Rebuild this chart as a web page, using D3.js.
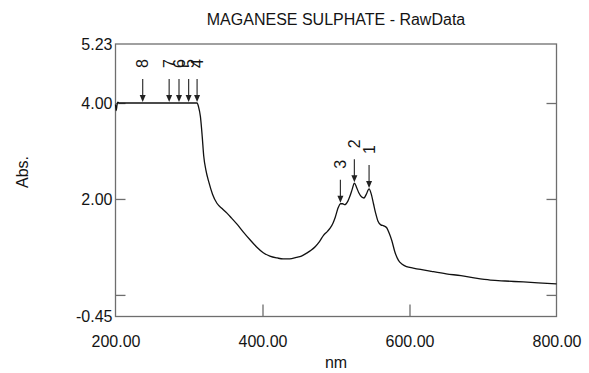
<!DOCTYPE html>
<html>
<head>
<meta charset="utf-8">
<script src="https://cdn.jsdelivr.net/npm/d3@7"></script>
<style>
  body { margin: 0; background: #fff; }
  text { font-family: "Liberation Sans", Arial, sans-serif; fill: #141414; }
</style>
</head>
<body>
<script>
// Data

var wavelength = [200, 201, 202, 203, 205, 210, 237, 273, 286, 300, 311, 313, 315.5, 318, 320, 323, 327,
  332, 338, 345, 352, 358, 365, 374, 383, 392, 401, 410, 420, 428, 437, 446, 453, 460, 466, 472, 477,
  483, 488, 492, 496, 499, 503, 506, 509, 512, 516, 519, 522, 525, 528, 531, 535, 538, 541, 545, 548,
  551, 554, 557, 561, 565, 569, 572, 576, 580, 585, 590, 596, 605, 615, 630, 650, 670, 690, 710, 730,
  755, 775, 800];
var absorbance = [3.97, 3.84, 3.95, 4.02, 4.0, 4.0, 4.0, 4.0, 4.0, 4.0, 4.0, 3.92, 3.72, 3.3, 2.9, 2.6, 2.35,
  2.1, 1.91, 1.80, 1.70, 1.60, 1.48, 1.31, 1.15, 1.00, 0.88, 0.81, 0.77, 0.75, 0.75, 0.78, 0.81, 0.87, 0.93, 1.01, 1.10,
  1.24, 1.32, 1.39, 1.50, 1.62, 1.82, 1.90, 1.90, 1.88, 1.95, 2.06, 2.20, 2.33, 2.24, 2.13, 2.04, 2.02, 2.09, 2.21, 2.10,
  1.90, 1.70, 1.54, 1.46, 1.44, 1.40, 1.30, 1.13, 0.90, 0.72, 0.64, 0.59, 0.56, 0.53, 0.49, 0.44, 0.40, 0.35, 0.31, 0.29,
  0.27, 0.25, 0.23];

var peakLabels = ["1", "2", "3", "4", "5", "6", "7", "8"];
var peakNm = [545, 525, 506, 311, 299.5, 286.4, 273, 237];
var peakAbs = [2.21, 2.33, 1.90, 4.0, 4.0, 4.0, 4.0, 4.0];

var yLabelTicks = [5.23, 4.00, 2.00, -0.45];
var yInnerTicks = [4, 2, 0];
var xLabelTicks = [200, 400, 600, 800];
var xInnerTicks = [400, 600];

/*
-----SVG-----
*/
var w = 589;
var h = 373;
var plotLeft = 115.5, plotRight = 556.5, plotTop = 44, plotBottom = 316.5;
var fontSize = 16;

var svg = d3.select("body")
  .append("svg")
  .attr("width", w)
  .attr("height", h);

var x = d3.scaleLinear().domain([200, 800]).range([plotLeft, plotRight]);
var y = d3.scaleLinear().domain([-0.45, 5.23]).range([plotBottom, plotTop]);

var axisColor = "#6e6e6e";
// plain hyphen for negatives, like the instrument printout
var fmt = function(d) { return d3.format(".2f")(d).replace("\u2212", "-"); };

// frame
svg.append("rect")
  .attr("x", plotLeft)
  .attr("y", plotTop)
  .attr("width", plotRight - plotLeft)
  .attr("height", plotBottom - plotTop)
  .attr("fill", "none")
  .attr("stroke", axisColor)
  .attr("stroke-width", 1.3);

// inner tick marks
function styleTicks(g) {
  g.select(".domain").remove();
  g.selectAll("line").attr("stroke", axisColor).attr("stroke-width", 1.3);
}

svg.append("g")
  .attr("transform", "translate(" + plotLeft + ",0)")
  .call(d3.axisRight(y).tickValues(yInnerTicks).tickSize(10).tickFormat(""))
  .call(styleTicks);

svg.append("g")
  .attr("transform", "translate(" + plotRight + ",0)")
  .call(d3.axisLeft(y).tickValues(yInnerTicks).tickSize(10).tickFormat(""))
  .call(styleTicks);

svg.append("g")
  .attr("transform", "translate(0," + plotBottom + ")")
  .call(d3.axisTop(x).tickValues(xInnerTicks).tickSize(12).tickFormat(""))
  .call(styleTicks);

// tick labels
function styleLabels(g) {
  g.select(".domain").remove();
  g.selectAll("text")
    .attr("font-size", fontSize)
    .attr("font-family", "Liberation Sans, Arial, sans-serif")
    .attr("fill", "#141414");
}

svg.append("g")
  .attr("transform", "translate(" + plotLeft + ",0)")
  .call(d3.axisLeft(y).tickValues(yLabelTicks).tickSize(0).tickPadding(3).tickFormat(fmt))
  .call(styleLabels);

svg.append("g")
  .attr("transform", "translate(0," + plotBottom + ")")
  .call(d3.axisBottom(x).tickValues(xLabelTicks).tickSize(0).tickPadding(19).tickFormat(fmt))
  .call(styleLabels);

// titles
svg.append("text")
  .attr("x", 336)
  .attr("y", 25)
  .attr("text-anchor", "middle")
  .attr("font-size", fontSize)
  .text("MAGANESE SULPHATE - RawData");

svg.append("text")
  .attr("x", 336)
  .attr("y", 368)
  .attr("text-anchor", "middle")
  .attr("font-size", fontSize)
  .text("nm");

svg.append("text")
  .attr("transform", "translate(28,172) rotate(-90)")
  .attr("text-anchor", "middle")
  .attr("font-size", fontSize)
  .text("Abs.");

/*
----Spectrum----
*/
var line = d3.line()
  .x(function(d, i) { return x(wavelength[i]); })
  .y(function(d) { return y(d); })
  .curve(d3.curveMonotoneX);

svg.append("path")
  .datum(absorbance)
  .attr("d", line)
  .attr("fill", "none")
  .attr("stroke", "#111")
  .attr("stroke-width", 1.3);

/*
----Peak markers----
*/
var peaks = svg.selectAll(".peak")
  .data(peakLabels)
  .enter()
  .append("g")
  .attr("class", "peak")
  .attr("transform", function(d, i) {
    return "translate(" + x(peakNm[i]) + "," + y(peakAbs[i]) + ")";
  });

peaks.append("line")
  .attr("x1", 0).attr("x2", 0)
  .attr("y1", -24).attr("y2", -4)
  .attr("stroke", "#333")
  .attr("stroke-width", 1.2);

peaks.append("path")
  .attr("d", "M-3,-8L3,-8L0,-1Z")
  .attr("fill", "#222");

peaks.append("text")
  .attr("transform", "translate(0,-35) rotate(-90)")
  .attr("dy", "0.35em")
  .attr("font-size", fontSize)
  .text(function(d) { return d; });
</script>
</body>
</html>
